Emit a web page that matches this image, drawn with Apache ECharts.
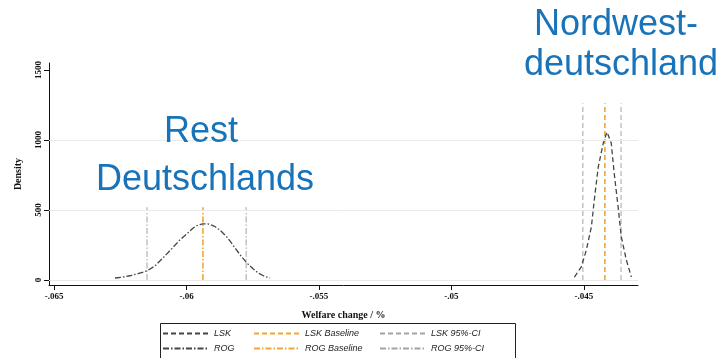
<!DOCTYPE html>
<html><head><meta charset="utf-8">
<script src="https://cdn.jsdelivr.net/npm/echarts@6/dist/echarts.min.js"></script>
<style>html,body{margin:0;padding:0;background:#fff}#c{width:724px;height:358px}</style>
</head><body><div id="c"></div>
<script>
// Density curve of ROG (Rest Deutschlands)
const rogX = [-0.06270,-0.06243,-0.06213,-0.06183,-0.06149,-0.06119,-0.06089,-0.06055,-0.06025,-0.05998,-0.05975,-0.05957,-0.05938,-0.05919,-0.05896,-0.05874,-0.05847,-0.05825,-0.05798,-0.05772,-0.05749,-0.05730,-0.05708,-0.05685];
const rogY = [14,20,30,45,65,100,157,225,286,330,371,392,400,400,385,357,305,250,180,121,80,50,28,14];
// Density curve of LSK (Nordwestdeutschland)
const lskX = [-0.04536,-0.04510,-0.04491,-0.04472,-0.04461,-0.04446,-0.04427,-0.04413,-0.04397,-0.04386,-0.04371,-0.04359,-0.04340,-0.04321];
const lskY = [21,93,214,379,571,807,979,1057,979,764,521,307,143,21];
// Baselines and 95% CI bounds
const rogBaseline = -0.05938, rogCI = [-0.06149, -0.05775], rogLineTop = 520;
const lskBaseline = -0.04421, lskCI = [-0.04504, -0.04360], lskLineTop = 1262;
const xTicks = [-0.065, -0.06, -0.055, -0.05, -0.045];
const yTicks = [0, 500, 1000, 1500];
const yGrid = [0, 500, 1000];

const dark = '#454545', grey = '#a3a3a3', orange = '#f0a733';
const dashL = [5, 3], dashDot = [6, 2, 1.5, 2];
const zip = (xs, ys) => xs.map((x, i) => [x, ys[i]]);
const vline = (x, top) => [[x, 0], [x, top]];
const mk = (name, data, color, dash, width, z) => ({
  name, type: 'line', data, symbol: 'none', showSymbol: false, silent: true, animation: false, z: z || 2,
  lineStyle: { color, type: dash, width }, itemStyle: { color }
});

const series = [
  { type: 'line', data: [], silent: true, z: 1,
    markLine: { silent: true, symbol: 'none', label: { show: false }, animation: false,
      lineStyle: { color: '#e9e9e9', type: 'solid', width: 1 },
      data: yGrid.map(v => ({ yAxis: v })) } },
  mk('LSK 95%-CI', vline(lskCI[0], lskLineTop), grey, dashL, 1),
  mk('LSK 95%-CI', vline(lskCI[1], lskLineTop), grey, dashL, 1),
  mk('ROG 95%-CI', vline(rogCI[0], rogLineTop), grey, dashDot, 1),
  mk('ROG 95%-CI', vline(rogCI[1], rogLineTop), grey, dashDot, 1),
  mk('LSK Baseline', vline(lskBaseline, lskLineTop), orange, dashL, 1.6),
  mk('ROG Baseline', vline(rogBaseline, rogLineTop), orange, dashDot, 1.6),
  mk('LSK', zip(lskX, lskY), dark, dashL, 1.3, 3),
  mk('ROG', zip(rogX, rogY), dark, dashDot, 1.3, 3)
];

const legText = { fontFamily: 'Liberation Sans', fontStyle: 'italic', fontSize: 9, color: '#222' };
const legCol = (left, names) => ({
  orient: 'vertical', left, top: 329, itemWidth: 46, itemHeight: 8, itemGap: 6, padding: 0,
  selectedMode: false, textStyle: legText, itemStyle: { opacity: 0 }, data: names
});

const chart = echarts.init(document.getElementById('c'), null, { renderer: 'canvas' });
chart.setOption({
  animation: false,
  backgroundColor: '#fff',
  grid: { left: 49, right: 86, top: 63, bottom: 73 },
  xAxis: {
    type: 'value', min: -0.06519, max: -0.04296,
    name: 'Welfare change / %', nameLocation: 'middle', nameGap: 25,
    nameTextStyle: { fontFamily: 'Liberation Serif', fontWeight: 'bold', fontSize: 10, color: '#111' },
    axisLine: { show: true, onZero: false, lineStyle: { color: '#111', width: 1 } },
    axisTick: { show: true, length: 5, customValues: xTicks, lineStyle: { color: '#111' } },
    axisLabel: { customValues: xTicks, margin: 7, fontFamily: 'Liberation Serif', fontWeight: 'bold', fontSize: 9, color: '#111',
      formatter: v => (v < 0 ? '-' : '') + String(Math.abs(+v.toFixed(3))).replace(/^0/, '') },
    splitLine: { show: false }
  },
  yAxis: {
    type: 'value', min: -36, max: 1550,
    name: 'Density', nameLocation: 'middle', nameGap: 26,
    nameTextStyle: { fontFamily: 'Liberation Serif', fontWeight: 'bold', fontSize: 10, color: '#111' },
    axisLine: { show: true, onZero: false, lineStyle: { color: '#111', width: 1 } },
    axisTick: { show: true, length: 5, customValues: yTicks, lineStyle: { color: '#111' } },
    axisLabel: { customValues: yTicks, rotate: 90, margin: 6, fontFamily: 'Liberation Serif', fontWeight: 'bold', fontSize: 9, color: '#111',
      formatter: v => String(Math.round(v)) },
    splitLine: { show: false }
  },
  legend: [
    legCol(162, ['LSK', 'ROG']),
    legCol(253, ['LSK Baseline', 'ROG Baseline']),
    legCol(379, ['LSK 95%-CI', 'ROG 95%-CI'])
  ],
  graphic: [
    { type: 'rect', left: 158, top: 321, shape: { width: 355, height: 45 }, style: { fill: 'none', stroke: '#222', lineWidth: 1 }, z: 0 },
    { type: 'text', x: 201, y: 132.5, style: { text: 'Rest', font: '36px "Liberation Sans"', fill: '#1873b9', align: 'center', verticalAlign: 'middle' }, z: 10 },
    { type: 'text', x: 205, y: 180.5, style: { text: 'Deutschlands', font: '36px "Liberation Sans"', fill: '#1873b9', align: 'center', verticalAlign: 'middle' }, z: 10 },
    { type: 'text', x: 616, y: 25.5, style: { text: 'Nordwest-', font: '36px "Liberation Sans"', fill: '#1873b9', align: 'center', verticalAlign: 'middle' }, z: 10 },
    { type: 'text', x: 621, y: 65.5, style: { text: 'deutschland', font: '36px "Liberation Sans"', fill: '#1873b9', align: 'center', verticalAlign: 'middle' }, z: 10 }
  ],
  series
});
</script></body></html>
